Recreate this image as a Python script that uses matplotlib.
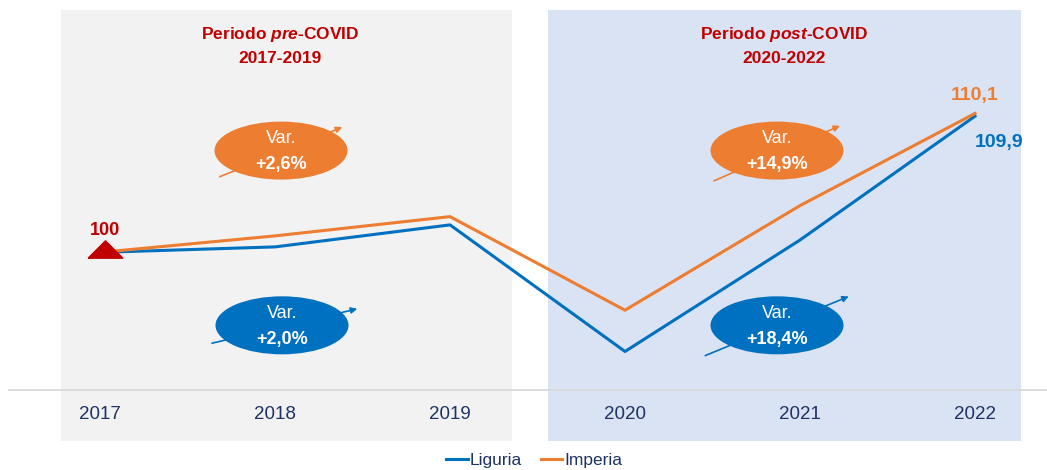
import numpy as np
import matplotlib
matplotlib.use("Agg")
import matplotlib.pyplot as plt
from matplotlib.patches import Ellipse, Rectangle
from matplotlib import font_manager

years = ["2017", "2018", "2019", "2020", "2021", "2022"]
liguria = [100.0, 100.4, 102.0, 92.8, 100.9, 109.9]
imperia = [100.0, 101.2, 102.6, 95.8, 103.4, 110.1]

periods = ["pre", "post"]
period_years = ["2017-2019", "2020-2022"]
var_imperia = ["+2,6%", "+14,9%"]
var_liguria = ["+2,0%", "+18,4%"]

BLUE = "#0070c0"
ORANGE = "#ed7d31"
DARK_RED = "#c00000"
NAVY = "#1f3264"

names = {f.name for f in font_manager.fontManager.ttflist}
FONT = "Liberation Sans Narrow" if "Liberation Sans Narrow" in names else "Liberation Sans"
plt.rcParams["font.family"] = [FONT, "DejaVu Sans"]
plt.rcParams["mathtext.fontset"] = "custom"
plt.rcParams["mathtext.it"] = f"{FONT}:italic:bold"
plt.rcParams["mathtext.rm"] = f"{FONT}:bold"

fig = plt.figure(figsize=(10.47, 4.70), dpi=100)
W, H = 1047, 470
# axes spans the gridline; y=90 sits on the bottom edge
ax = fig.add_axes([9 / W, 1 - 390 / H, (W - 9) / W, (390 - 10) / H])
x = np.arange(len(years))
px_per_x = 175.0
ax.set_xlim(-(100 - 9) / px_per_x, 5 + (W - 975) / px_per_x)
px_per_y = 13.76
ax.set_ylim(90, 90 + (390 - 10) / px_per_y)
for s in ax.spines.values():
    s.set_visible(False)
ax.set_yticks([])
ax.set_xticks(x)
ax.set_xticklabels(years, fontsize=13.5, color=NAVY)
ax.tick_params(axis="x", length=0, pad=11.5)
ax.patch.set_alpha(0)

# period backgrounds, extending below the axis under the year labels
y_lo = 90 - (441 - 390) / px_per_y
y_hi = 90 + (390 - 10) / px_per_y
shades = [((61 - 100) / px_per_x, (512 - 100) / px_per_x, "#f2f2f2"),
          ((548 - 100) / px_per_x, (1021 - 100) / px_per_x, "#dae3f3")]
for x0, x1, c in shades:
    ax.add_patch(Rectangle((x0, y_lo), x1 - x0, y_hi - y_lo, facecolor=c,
                           edgecolor="none", zorder=0, clip_on=False))
ax.axhline(90, color="#d9d9d9", lw=1.3, zorder=1, clip_on=False)

ax.plot(x, liguria, color=BLUE, lw=2.2, zorder=3, label="Liguria")
ax.plot(x, imperia, color=ORANGE, lw=2.2, zorder=3, label="Imperia")

# start marker and end labels
tri = [(-1, -0.5), (1, -0.5), (0, 0.5), (-1, -0.5)]
ax.plot([x[0] + 0.03], [liguria[0] + 0.25], marker=tri, markersize=25,
        color=DARK_RED, zorder=5, clip_on=False)
ax.text(x[0] + 0.03, liguria[0] + 1.0, "100", color=DARK_RED, fontsize=13,
        fontweight="bold", ha="center", va="bottom", zorder=6)
ax.text(x[5], imperia[5] + 0.7, "110,1", color=ORANGE,
        fontsize=14, fontweight="bold", ha="center", va="bottom")
ax.text(x[5] + 0.14, liguria[5] - 1.3, "109,9", color=BLUE, fontsize=14,
        fontweight="bold", ha="center", va="top")

# period titles
title_x = [(280 - 100) / px_per_x, (784 - 100) / px_per_x]
for tx, p, yy in zip(title_x, periods, period_years):
    ax.text(tx, 115.8, rf"Periodo $\it{{{p}}}$-COVID", color=DARK_RED,
            fontsize=12.5, fontweight="bold", ha="center", va="center")
    ax.text(tx, 114.1, yy, color=DARK_RED, fontsize=12.5,
            fontweight="bold", ha="center", va="center")

# variation bubbles with trend arrows
ell_w = 133 / px_per_x
ell_h = 58 / px_per_y
bubbles = [
    ((281 - 100) / px_per_x, 107.4, var_imperia[0], ORANGE, (-0.35, -1.9), (0.35, 1.7)),
    ((777 - 100) / px_per_x, 107.4, var_imperia[1], ORANGE, (-0.36, -2.2), (0.36, 1.8)),
    ((282 - 100) / px_per_x, 94.7, var_liguria[0], BLUE, (-0.40, -1.3), (0.43, 1.2)),
    ((777 - 100) / px_per_x, 94.7, var_liguria[1], BLUE, (-0.41, -2.2), (0.41, 2.1)),
]
for cx, cy, label, c, d0, d1 in bubbles:
    ax.annotate("", xy=(cx + d1[0], cy + d1[1]), xytext=(cx + d0[0], cy + d0[1]),
                arrowprops=dict(arrowstyle="-|>", color=c, lw=1.2,
                                mutation_scale=9, shrinkA=0, shrinkB=0), zorder=4)
    ax.add_patch(Ellipse((cx, cy), ell_w, ell_h, facecolor=c, edgecolor="none", zorder=4))
    ax.text(cx, cy + 0.85, "Var.", color="white", fontsize=13, ha="center",
            va="center", zorder=5)
    ax.text(cx, cy - 1.0, label, color="white", fontsize=13, fontweight="bold",
            ha="center", va="center", zorder=5)

fig.legend(loc="lower center", bbox_to_anchor=(534 / W, -0.03), ncol=2, frameon=False,
           fontsize=12.5, handlelength=1.25, handletextpad=0.1, columnspacing=1.1,
           labelcolor=NAVY)

fig.savefig("out.png", dpi=100)
